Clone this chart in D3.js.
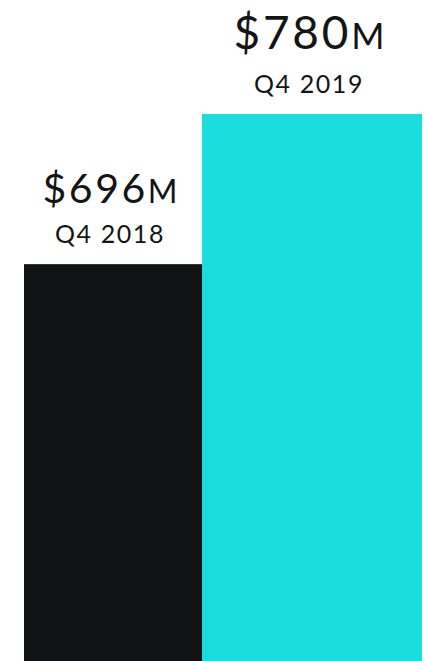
<!DOCTYPE html>
<html>
<head>
<meta charset="utf-8">
<script src="https://cdn.jsdelivr.net/npm/d3@7"></script>
<style>
  html, body { margin: 0; padding: 0; background: #fff; }
  svg { display: block; }
  text { font-family: Lato, "Open Sans", sans-serif; fill: #141414; }
</style>
</head>
<body>
<svg id="chart" width="428" height="661"></svg>
<script>
// Quarterly revenue, in millions of dollars
const quarters = ["Q4 2018", "Q4 2019"];
const revenue = [696, 780];
const barColors = ["#121315", "#1cdddd"];

const W = 428, H = 661;
const svg = d3.select("#chart");

const x = d3.scaleBand().domain(quarters).range([24, 380]).paddingInner(0);
const y = d3.scaleLinear().domain([474, 780]).range([H, 114]);

const data = quarters.map((q, i) => ({ q, v: revenue[i], c: barColors[i], i }));
const barRight = d => d.i === data.length - 1 ? W - 6 : x(d.q) + x.bandwidth();

svg.selectAll("rect.bar")
  .data(data)
  .join("rect")
  .attr("class", "bar")
  .attr("x", d => x(d.q))
  .attr("y", d => y(d.v))
  .attr("width", d => barRight(d) - x(d.q))
  .attr("height", d => H - y(d.v))
  .attr("fill", d => d.c);

// Value and period labels above each bar; the latest quarter is set larger
const labelScale = d => d.i === data.length - 1 ? 1.12 : 1;
const cx = d => (x(d.q) + barRight(d)) / 2 - 3;

const value = svg.selectAll("text.value")
  .data(data)
  .join("text")
  .attr("class", "value")
  .attr("x", cx)
  .attr("y", d => y(d.v) - 21 - (d.i === data.length - 1 ? 44 : 40))
  .attr("text-anchor", "middle")
  .style("font-weight", 400)
  .style("font-size", d => (41 * labelScale(d)) + "px")
  .style("letter-spacing", d => (2.5 * labelScale(d)) + "px");
value.append("tspan").text(d => "$" + d.v);
value.append("tspan")
  .style("font-size", d => (32 * labelScale(d)) + "px")
  .style("letter-spacing", "0px")
  .text("M");

svg.selectAll("text.period")
  .data(data)
  .join("text")
  .attr("class", "period")
  .attr("x", cx)
  .attr("y", d => y(d.v) - 21)
  .attr("text-anchor", "middle")
  .style("font-weight", 400)
  .style("font-size", "25px")
  .style("letter-spacing", "1.6px")
  .text(d => d.q);
</script>
</body>
</html>
